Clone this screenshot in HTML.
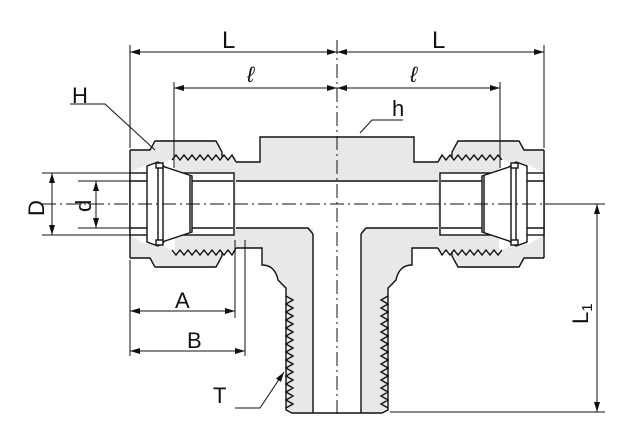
<!DOCTYPE html>
<html><head><style>body{margin:0;background:#fff}svg{display:block}text{font-family:"Liberation Sans",sans-serif;fill:#111}</style></head>
<body>
<svg width="643" height="448" viewBox="0 0 643 448" xmlns="http://www.w3.org/2000/svg">
<defs>
<marker id="a" viewBox="0 0 10 6" refX="10" refY="3" markerWidth="10" markerHeight="6" orient="auto-start-reverse"><path d="M0,0L10,3L0,6z" fill="#111"/></marker>
<g id="half" stroke="#111" stroke-width="1.4" fill="none">
  <path d="M337,137 L260,137 L260,162 L236,162 L236,248 L262,248 L262,265 L275,268 L280,285 L286,290 L286,410 L292,413 L313,413 L313,228 L233,228 L233,181 L337,181 Z" fill="#e6e8ea" stroke="none"/>
  <path d="M337,137 L260,137 L260,162 L236,162" />
  <path d="M236,248 L262,248 L262,265 Q275,265 278,280 L286,288 L286,410 L292,413 L337,413"/>
  <path d="M233,181 L337,181"/>
  <path d="M313,234 L313,413"/>
  <path d="M233,228 L308,228 L313,234"/>
  <polyline points="286,296 293,300 286,304 293,308 286,312 293,316 286,320 293,324 286,328 293,332 286,336 293,340 286,344 293,348 286,352 293,356 286,360 293,364 286,368 293,372 286,376 293,380 286,384 293,388 286,392 293,396 286,400 293,404 286,408" fill="none"/>
  <path d="M130,150 L150,150 L158,140 L216,140 L222,152 L220,157 L175,157 L160,165 L145,165 L130,173 Z" fill="#e6e8ea" stroke="none"/>
  <path d="M130,258 L150,258 L158,268 L216,268 L222,256 L220,252 L175,252 L160,244 L145,244 L130,235 Z" fill="#e6e8ea" stroke="none"/>
  <path d="M130,150 L150,150 L155,141 L216,141 L222,152 L222,157"/>
  <path d="M130,258 L150,258 L155,267 L216,267 L222,256 L222,252"/>
  <path d="M130,150 L130,258"/>
  <path d="M175,157 L236,157 L236,252 L175,252 Z" fill="#e6e8ea" stroke="none"/>
  <polyline points="172,160 176,155 180,160 184,155 188,160 192,155 196,160 200,155 204,160 208,155 212,160 216,155 220,160 224,155 228,160 232,155 236,162"/>
  <polyline points="172,250 176,255 180,250 184,255 188,250 192,255 196,250 200,255 204,250 208,255 212,250 216,255 220,250 224,255 228,250 232,255 236,248"/>
  <rect x="130" y="173" width="104" height="62" fill="#fff"/>
  <path d="M130,181 L233,181 M130,228 L233,228"/>
  <path d="M147,166 L158,162 L165,167 L192,176 L192,232 L165,241 L158,246 L147,242 Z" fill="#fff"/>
  <path d="M158,168 L158,240 M163,166 L163,242"/>
  <path d="M190,176 L190,232"/>
  <rect x="156" y="163" width="7" height="5" fill="#fff"/>
  <rect x="156" y="240" width="7" height="5" fill="#fff"/>
  <path d="M130,45 L130,148" stroke-width="1"/>
  <path d="M174,82 L174,168" stroke-width="1"/>
  <path d="M130,52 L337,52" stroke-width="1" marker-start="url(#a)" marker-end="url(#a)"/>
  <path d="M174,88 L337,88" stroke-width="1" marker-start="url(#a)" marker-end="url(#a)"/>
</g>
</defs>
<use href="#half"/>
<use href="#half" transform="translate(674,0) scale(-1,1)"/>
<g stroke="#111" stroke-width="1" fill="none">
  <path d="M130,260 L130,356 M235,240 L235,318 M245,240 L245,356"/>
  <path d="M337,40 L337,418" stroke-dasharray="14,4,2,4"/>
  <path d="M42,204 L545,204" stroke-dasharray="14,4,2,4"/>
  <path d="M130,311 L235,311" marker-start="url(#a)" marker-end="url(#a)"/>
  <path d="M130,351 L245,351" marker-start="url(#a)" marker-end="url(#a)"/>
  <path d="M545,204 L605,204 M390,412 L605,412"/>
  <path d="M597,204 L597,412" marker-start="url(#a)" marker-end="url(#a)"/>
  <path d="M42,173 L130,173 M42,235 L130,235 M78,181 L130,181 M78,228 L130,228"/>
  <path d="M52,173 L52,235" marker-start="url(#a)" marker-end="url(#a)"/>
  <path d="M96,181 L96,228" marker-start="url(#a)" marker-end="url(#a)"/>
  <path d="M70,104 L105,104 L155,150"/>
  <path d="M403,120 L372,120 L360,133"/>
  <path d="M235,408 L260,408 L284,372" marker-end="url(#a)"/>
</g>
<text x="222" y="48" font-size="24">L</text>
<text x="432" y="48" font-size="24">L</text>
<text x="247" y="82" font-size="22" font-style="italic">ℓ</text>
<text x="410" y="82" font-size="22" font-style="italic">ℓ</text>
<text x="72" y="103" font-size="22">H</text>
<text x="392" y="116" font-size="22">h</text>
<text x="175" y="308" font-size="22">A</text>
<text x="187" y="348" font-size="22">B</text>
<text x="213" y="403" font-size="22">T</text>
<text transform="translate(44,216) rotate(-90)" font-size="22">D</text>
<text transform="translate(91,212) rotate(-90)" font-size="22">d</text>
<text transform="translate(588,324) rotate(-90)" font-size="22">L<tspan font-size="15" dy="4">1</tspan></text>
</svg>
</body></html>
